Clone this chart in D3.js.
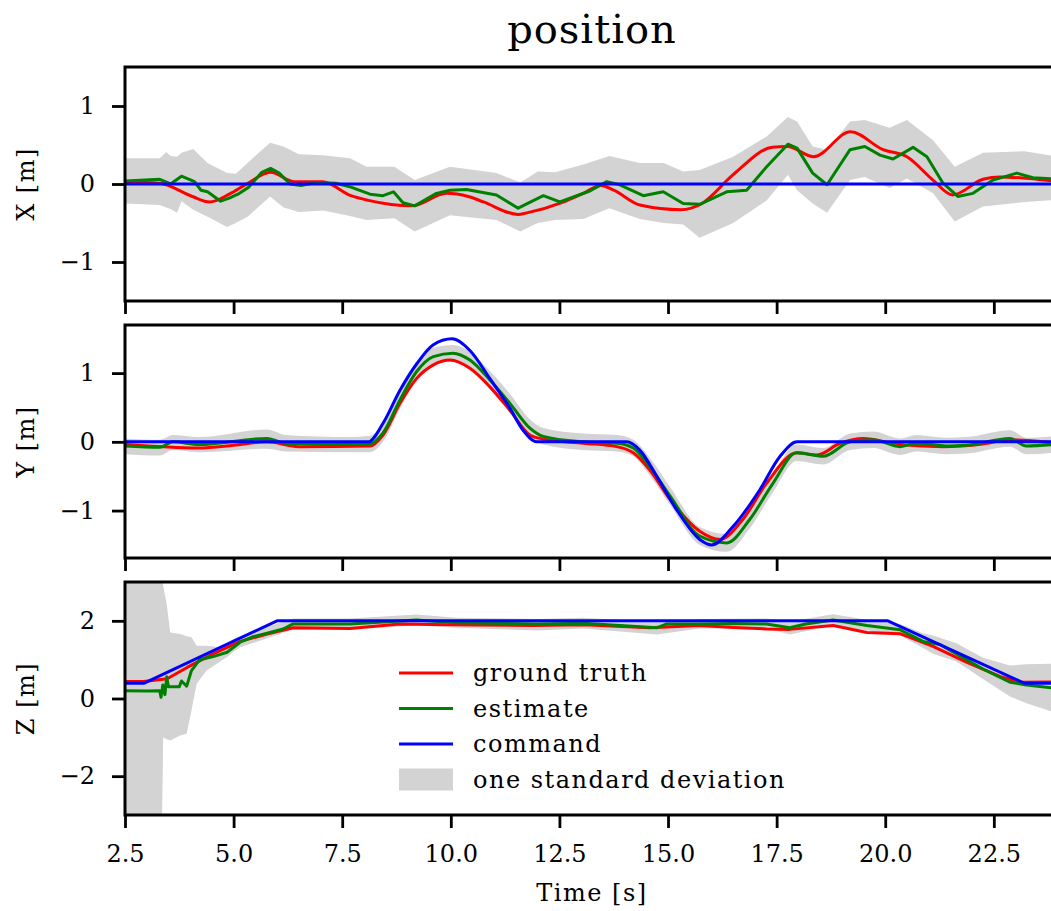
<!DOCTYPE html>
<html>
<head>
<meta charset="utf-8">
<script src="https://cdn.jsdelivr.net/npm/d3@7"></script>
<style>
  body { margin: 0; background: #fff; }
  text { font-family: "DejaVu Serif", serif; fill: #000; }
</style>
</head>
<body>
<svg id="chart" width="1051" height="911"></svg>
<script>
/*------------------- data -------------------*/
const timeDomain = [2.5, 24.0];
const timeTicks = [2.5, 5.0, 7.5, 10.0, 12.5, 15.0, 17.5, 20.0, 22.5];

// X position
const xTruthT = [2.5, 3.3, 4.05, 4.45, 4.9, 5.3, 5.85, 6.4, 7.05, 7.7, 8.1, 9.1, 9.9, 10.4, 10.75, 11.55, 11.75, 12.6, 13.05, 13.45, 13.75, 14.35, 15.3, 15.75, 16.5, 17.4, 17.75, 18.35, 19.2, 19.95, 20.5, 21.1, 21.55, 22.25, 22.65, 23.1, 24.0];
const xTruthV = [0.03, 0.01, -0.16, -0.23, -0.13, 0.0, 0.15, 0.03, 0.03, -0.15, -0.21, -0.28, -0.12, -0.16, -0.23, -0.39, -0.37, -0.23, -0.12, -0.02, -0.08, -0.27, -0.33, -0.26, 0.12, 0.47, 0.48, 0.35, 0.67, 0.44, 0.35, 0.05, -0.14, 0.06, 0.09, 0.08, 0.03];
const xEstT = [2.5, 3.3, 3.55, 3.8, 4.1, 4.25, 4.4, 4.7, 4.9, 5.1, 5.35, 5.65, 5.85, 6.05, 6.3, 6.55, 6.9, 7.35, 7.7, 8.14, 8.44, 8.68, 8.9, 9.17, 9.67, 9.98, 10.36, 11.05, 11.55, 12.13, 12.51, 13.2, 13.59, 13.89, 14.43, 14.89, 15.35, 15.73, 16.35, 16.81, 17.27, 17.76, 17.97, 18.33, 18.66, 19.19, 19.53, 19.88, 20.18, 20.64, 20.96, 21.33, 21.67, 22.02, 22.48, 23.03, 23.4, 24.0];
const xEstV = [0.04, 0.06, 0.0, 0.1, 0.03, -0.08, -0.1, -0.22, -0.18, -0.13, -0.04, 0.15, 0.2, 0.14, 0.0, -0.02, 0.02, 0.01, -0.04, -0.13, -0.15, -0.1, -0.24, -0.28, -0.12, -0.08, -0.07, -0.14, -0.31, -0.15, -0.23, -0.09, 0.03, -0.01, -0.15, -0.1, -0.25, -0.26, -0.1, -0.08, 0.22, 0.51, 0.46, 0.14, -0.01, 0.44, 0.48, 0.37, 0.32, 0.47, 0.35, 0.01, -0.16, -0.12, 0.05, 0.14, 0.08, 0.06];
const xCmdT = [2.5, 24.0];
const xCmdV = [0, 0];
const xBandT = [2.5, 3.3, 3.45, 3.55, 3.7, 3.8, 4.07, 4.4, 4.85, 5.05, 5.32, 5.84, 6.15, 6.5, 7.06, 7.68, 8.06, 8.7, 9.17, 9.98, 11.05, 11.6, 12.0, 12.4, 13.05, 13.65, 14.35, 14.9, 15.35, 15.73, 16.5, 17.27, 17.76, 17.97, 18.33, 18.66, 19.19, 19.53, 20.1, 20.5, 21.1, 21.6, 22.25, 23.2, 24.0];
const xBandLo = [-0.25, -0.27, -0.3, -0.32, -0.37, -0.22, -0.33, -0.42, -0.55, -0.5, -0.42, -0.16, -0.3, -0.36, -0.34, -0.41, -0.46, -0.44, -0.61, -0.4, -0.46, -0.61, -0.5, -0.46, -0.45, -0.31, -0.45, -0.5, -0.52, -0.69, -0.5, -0.21, 0.12, -0.08, -0.25, -0.37, 0.05, 0.09, -0.05, 0.07, -0.12, -0.48, -0.29, -0.23, -0.2];
const xBandHi = [0.33, 0.33, 0.41, 0.36, 0.35, 0.4, 0.45, 0.27, 0.14, 0.13, 0.27, 0.53, 0.48, 0.38, 0.37, 0.33, 0.22, 0.22, 0.05, 0.22, 0.14, 0.02, 0.16, 0.15, 0.25, 0.36, 0.27, 0.27, 0.16, 0.18, 0.35, 0.61, 0.86, 0.8, 0.48, 0.44, 0.8, 0.82, 0.72, 0.82, 0.56, 0.22, 0.4, 0.42, 0.35];

// Y position
const yTruthT = [2.5, 4.2, 5.0, 5.77, 6.5, 8.14, 8.44, 8.83, 9.21, 9.6, 9.98, 10.44, 10.9, 11.36, 11.82, 12.13, 13.05, 13.82, 14.2, 14.58, 15.05, 15.73, 16.2, 16.72, 17.27, 17.97, 18.43, 18.96, 19.49, 20.34, 21.33, 22.25, 22.87, 24.0];
const yTruthV = [-0.04, -0.09, -0.05, 0.0, -0.07, -0.06, 0.1, 0.56, 0.92, 1.12, 1.19, 1.07, 0.8, 0.46, 0.1, 0.04, -0.02, -0.07, -0.16, -0.41, -0.84, -1.3, -1.42, -1.13, -0.6, -0.16, -0.19, -0.02, 0.05, -0.04, -0.07, -0.03, 0.03, -0.02];
const yEstT = [2.5, 3.3, 3.6, 4.2, 5.77, 6.2, 7.68, 8.14, 8.44, 8.83, 9.21, 9.6, 10.05, 10.44, 10.9, 11.36, 11.82, 12.13, 13.05, 13.82, 14.2, 14.58, 15.05, 15.73, 16.35, 16.88, 17.42, 17.96, 18.57, 19.19, 19.72, 20.34, 20.72, 21.41, 21.87, 22.87, 23.25, 24.0];
const yEstV = [-0.06, -0.08, 0.0, -0.04, 0.05, -0.02, -0.04, -0.03, 0.13, 0.61, 1.02, 1.24, 1.29, 1.19, 0.9, 0.56, 0.2, 0.08, 0.0, -0.02, -0.09, -0.36, -0.79, -1.37, -1.47, -1.13, -0.6, -0.16, -0.21, 0.0, 0.03, -0.07, -0.02, -0.06, -0.05, 0.05, -0.06, -0.03];
const yCmdT = [2.5, 8.1, 8.44, 8.83, 9.22, 9.59, 10.03, 10.44, 10.9, 11.36, 11.66, 11.98, 14.05, 14.35, 14.74, 15.2, 15.73, 16.0, 16.5, 17.11, 17.58, 17.97, 24.0];
const yCmdV = [0, 0, 0.27, 0.75, 1.14, 1.41, 1.5, 1.33, 0.92, 0.49, 0.17, 0, 0, -0.12, -0.5, -0.99, -1.42, -1.5, -1.23, -0.7, -0.21, 0, 0];
const yBandT = yEstT;
const yBandLo = [-0.18, -0.2, -0.12, -0.15, -0.1, -0.14, -0.15, -0.15, 0.0, 0.48, 0.9, 1.12, 1.17, 1.07, 0.77, 0.42, 0.07, -0.04, -0.12, -0.14, -0.21, -0.49, -0.92, -1.5, -1.6, -1.26, -0.73, -0.28, -0.33, -0.12, -0.09, -0.19, -0.14, -0.18, -0.17, -0.07, -0.18, -0.15];
const yBandHi = [0.05, 0.03, 0.1, 0.07, 0.18, 0.1, 0.07, 0.09, 0.26, 0.74, 1.15, 1.37, 1.41, 1.31, 1.03, 0.7, 0.33, 0.2, 0.12, 0.1, 0.03, -0.23, -0.66, -1.24, -1.34, -1.0, -0.47, -0.04, -0.09, 0.12, 0.15, 0.05, 0.1, 0.06, 0.07, 0.17, 0.06, 0.09];

// Z position
const zTruthT = [2.5, 2.93, 3.47, 3.93, 4.53, 5.15, 5.77, 6.37, 7.68, 8.83, 9.98, 11.9, 13.05, 14.58, 15.73, 16.5, 17.27, 17.8, 18.8, 19.58, 20.34, 21.1, 21.88, 22.64, 23.1, 24.0];
const zTruthV = [0.44, 0.44, 0.51, 0.8, 1.15, 1.47, 1.66, 1.82, 1.8, 1.92, 1.9, 1.88, 1.9, 1.82, 1.88, 1.83, 1.79, 1.78, 1.88, 1.7, 1.67, 1.34, 0.93, 0.57, 0.42, 0.43];
const zEstT = [2.5, 3.0, 3.3, 3.33, 3.37, 3.42, 3.46, 3.5, 3.75, 3.8, 3.92, 4.03, 4.22, 4.53, 4.85, 5.15, 5.45, 5.77, 6.14, 6.37, 7.68, 9.21, 10.14, 12.0, 13.05, 14.74, 14.97, 15.73, 16.5, 17.27, 17.8, 18.17, 18.8, 19.58, 20.34, 20.87, 21.26, 21.64, 22.25, 22.87, 23.25, 24.0];
const zEstV = [0.2, 0.19, 0.2, 0.03, 0.35, 0.1, 0.56, 0.3, 0.3, 0.45, 0.32, 0.72, 1.0, 1.08, 1.19, 1.45, 1.59, 1.68, 1.79, 1.92, 1.92, 2.02, 1.95, 1.92, 1.94, 1.82, 1.92, 1.92, 1.93, 1.92, 1.82, 1.92, 2.02, 1.88, 1.77, 1.47, 1.39, 1.15, 0.76, 0.42, 0.35, 0.25];
const zCmdT = [2.5, 2.93, 6.0, 20.06, 23.21, 24.0];
const zCmdV = [0.39, 0.39, 2.0, 2.0, 0.39, 0.39];
const zBandT = [2.5, 3.34, 3.38, 3.46, 3.54, 3.77, 3.92, 4.03, 4.15, 4.38, 4.69, 4.84, 4.99, 5.15, 5.77, 6.37, 7.68, 9.21, 10.14, 12.0, 13.05, 14.74, 15.73, 17.27, 17.8, 18.8, 19.58, 20.34, 20.87, 21.1, 21.64, 22.25, 22.87, 23.25, 24.0];
const zBandLo = [-4, -4, -1.0, -1.05, -1.08, -0.95, -0.91, -0.31, 0.38, 0.72, 0.95, 1.06, 1.2, 1.32, 1.55, 1.78, 1.78, 1.88, 1.82, 1.75, 1.8, 1.65, 1.8, 1.8, 1.65, 1.88, 1.76, 1.62, 1.3, 1.15, 0.95, 0.5, 0.05, -0.12, -0.4];
const zBandHi = [4, 4, 2.9, 2.43, 1.7, 1.66, 1.6, 1.58, 1.36, 1.36, 1.32, 1.4, 1.53, 1.6, 1.84, 2.06, 2.06, 2.16, 2.08, 2.05, 2.08, 1.97, 2.05, 2.06, 1.98, 2.17, 2.03, 1.92, 1.68, 1.62, 1.42, 1.05, 0.85, 0.88, 0.9];

const legendLabels = ["ground truth", "estimate", "command", "one standard deviation"];

/*------------------- layout -------------------*/
const colors = { truth: "#ff0000", est: "#008000", cmd: "#0000ff", band: "#d3d3d3" };
const plotLeft = 125, plotRight = 1059;
const lineWidth = 3;

const zip = (ts, vs) => ts.map((t, i) => ({ t: t, v: vs[i] }));
const zipBand = (ts, lo, hi) => ts.map((t, i) => ({ t: t, lo: lo[i], hi: hi[i] }));

const panels = [
    { top: 67, bottom: 301, domain: [-1.5, 1.5], ticks: [-1, 0, 1], label: "X [m]",
      truth: zip(xTruthT, xTruthV), est: zip(xEstT, xEstV), cmd: zip(xCmdT, xCmdV),
      band: zipBand(xBandT, xBandLo, xBandHi),
      truthCurve: d3.curveMonotoneX, estCurve: d3.curveLinear, cmdCurve: d3.curveLinear, bandCurve: d3.curveLinear },
    { top: 325, bottom: 558, domain: [-1.69, 1.70], ticks: [-1, 0, 1], label: "Y [m]",
      truth: zip(yTruthT, yTruthV), est: zip(yEstT, yEstV), cmd: zip(yCmdT, yCmdV),
      band: zipBand(yBandT, yBandLo, yBandHi),
      truthCurve: d3.curveMonotoneX, estCurve: d3.curveMonotoneX, cmdCurve: d3.curveMonotoneX, bandCurve: d3.curveMonotoneX },
    { top: 582, bottom: 815, domain: [-3, 3], ticks: [-2, 0, 2], label: "Z [m]",
      truth: zip(zTruthT, zTruthV), est: zip(zEstT, zEstV), cmd: zip(zCmdT, zCmdV),
      band: zipBand(zBandT, zBandLo, zBandHi),
      truthCurve: d3.curveLinear, estCurve: d3.curveLinear, cmdCurve: d3.curveLinear, bandCurve: d3.curveLinear }
];

const svg = d3.select("#chart");

const x = d3.scaleLinear().domain(timeDomain).range([plotLeft, plotRight]);

// title
svg.append("text")
    .attr("x", (plotLeft + plotRight) / 2)
    .attr("y", 43)
    .attr("text-anchor", "middle")
    .attr("font-size", 40)
    .attr("letter-spacing", 1)
    .text("position");

panels.forEach((p, i) => {
    const y = d3.scaleLinear().domain(p.domain).range([p.bottom, p.top]);
    const g = svg.append("g");

    g.append("clipPath").attr("id", "clip" + i)
        .append("rect")
        .attr("x", plotLeft).attr("y", p.top)
        .attr("width", plotRight - plotLeft).attr("height", p.bottom - p.top);

    const plot = g.append("g").attr("clip-path", `url(#clip${i})`);

    const area = d3.area()
        .x(d => x(d.t)).y0(d => y(d.lo)).y1(d => y(d.hi))
        .curve(p.bandCurve);
    plot.append("path").datum(p.band)
        .attr("d", area)
        .attr("fill", colors.band);

    const line = curve => d3.line().x(d => x(d.t)).y(d => y(d.v)).curve(curve);

    [["truth", p.truthCurve], ["est", p.estCurve], ["cmd", p.cmdCurve]].forEach(([key, curve]) => {
        plot.append("path").datum(p[key])
            .attr("d", line(curve))
            .attr("fill", "none")
            .attr("stroke", colors[key])
            .attr("stroke-width", lineWidth)
            .attr("stroke-linejoin", "round");
    });

    // y axis
    const ya = g.append("g")
        .attr("transform", `translate(${plotLeft},0)`)
        .call(d3.axisLeft(y).tickValues(p.ticks).tickSize(13).tickPadding(17)
            .tickFormat(d3.format("d")));
    ya.select(".domain").remove();
    ya.attr("font-family", "DejaVu Serif").attr("font-size", 24);
    ya.selectAll("line").attr("stroke-width", 2.8);

    // x axis
    const xa = g.append("g")
        .attr("transform", `translate(0,${p.bottom})`)
        .call(d3.axisBottom(x).tickValues(timeTicks).tickSize(13).tickPadding(17)
            .tickFormat(i === panels.length - 1 ? d3.format(".1f") : () => ""));
    xa.select(".domain").remove();
    xa.attr("font-family", "DejaVu Serif").attr("font-size", 24);
    xa.selectAll("line").attr("stroke-width", 2.8);

    // spines
    g.append("rect")
        .attr("x", plotLeft).attr("y", p.top)
        .attr("width", plotRight - plotLeft).attr("height", p.bottom - p.top)
        .attr("fill", "none").attr("stroke", "#000").attr("stroke-width", 3);

    // y label
    g.append("text")
        .attr("transform", `translate(26,${(p.top + p.bottom) / 2}) rotate(-90)`)
        .attr("text-anchor", "middle")
        .attr("dominant-baseline", "central")
        .attr("font-size", 24)
        .attr("letter-spacing", 1.5)
        .text(p.label);
});

// x label
svg.append("text")
    .attr("x", (plotLeft + plotRight) / 2)
    .attr("y", 901)
    .attr("text-anchor", "middle")
    .attr("font-size", 24)
    .attr("letter-spacing", 1.5)
    .text("Time [s]");

// legend
const legend = svg.append("g").attr("transform", "translate(399,673)");
const legendColors = [colors.truth, colors.est, colors.cmd, colors.band];
legendLabels.forEach((lab, i) => {
    const row = legend.append("g").attr("transform", `translate(0,${i * 35.5})`);
    if (i < 3) {
        row.append("line")
            .attr("x1", 0).attr("x2", 54)
            .attr("stroke", legendColors[i]).attr("stroke-width", lineWidth);
    } else {
        row.append("rect")
            .attr("x", 0).attr("y", -11).attr("width", 54).attr("height", 22)
            .attr("fill", legendColors[i]);
    }
    row.append("text")
        .attr("x", 74)
        .attr("dominant-baseline", "central")
        .attr("font-size", 24)
        .attr("letter-spacing", 1.5)
        .text(lab);
});
</script>
</body>
</html>
